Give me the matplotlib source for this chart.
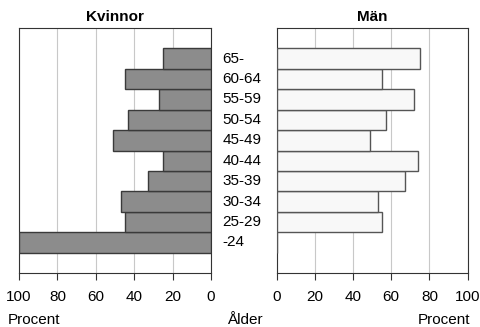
import matplotlib
matplotlib.use("Agg")
import matplotlib.pyplot as plt

plt.rcParams['font.family'] = ['Liberation Sans', 'DejaVu Sans']

ages = ['-24', '25-29', '30-34', '35-39', '40-44', '45-49', '50-54', '55-59', '60-64', '65-']
kvinnor = [100, 45, 47, 33, 25, 51, 43, 27, 45, 25]
man = [0, 55, 53, 67, 74, 49, 57, 72, 55, 75]
ticks = [0, 20, 40, 60, 80, 100]

fig = plt.figure(figsize=(4.81, 3.27), dpi=100)
axl = fig.add_axes([0.0395, 0.165, 0.3992, 0.7494])
axr = fig.add_axes([0.575, 0.165, 0.3973, 0.7494])

pos = list(range(len(ages)))

axl.barh(pos, kvinnor, height=1.0, color='#8c8c8c', edgecolor='#3a3a3a', linewidth=1.0, zorder=3)
axr.barh(pos, man, height=1.0, color='#f8f8f8', edgecolor='#555555', linewidth=1.0, zorder=3)

for ax in (axl, axr):
    ax.set_ylim(-1.5, 10.5)
    ax.set_xlim(0, 100)
    ax.set_xticks(ticks)
    ax.set_xticklabels([str(t) for t in ticks], fontsize=11)
    ax.set_yticks([])
    ax.grid(axis='x', color='#c8c8c8', linewidth=0.8, zorder=0)
    ax.tick_params(axis='x', direction='out', length=5, width=0.8, color='#333333', pad=7)
    for s in ax.spines.values():
        s.set_color('#333333')
        s.set_linewidth(0.8)

axl.invert_xaxis()

axl.set_title('Kvinnor', fontsize=11, fontweight='bold', pad=5)
axr.set_title('Män', fontsize=11, fontweight='bold', pad=5)

# age labels in the gap between the panels
for p, a in zip(pos, ages):
    axl.text(-6, p, a, fontsize=11, ha='left', va='center', clip_on=False)

fig.text(8 / 481, 1 - 320 / 327, 'Procent', fontsize=11, ha='left', va='center')
fig.text(227 / 481, 1 - 320 / 327, 'Ålder', fontsize=11, ha='left', va='center')
fig.text(470 / 481, 1 - 320 / 327, 'Procent', fontsize=11, ha='right', va='center')

fig.savefig('out.png', dpi=100)
